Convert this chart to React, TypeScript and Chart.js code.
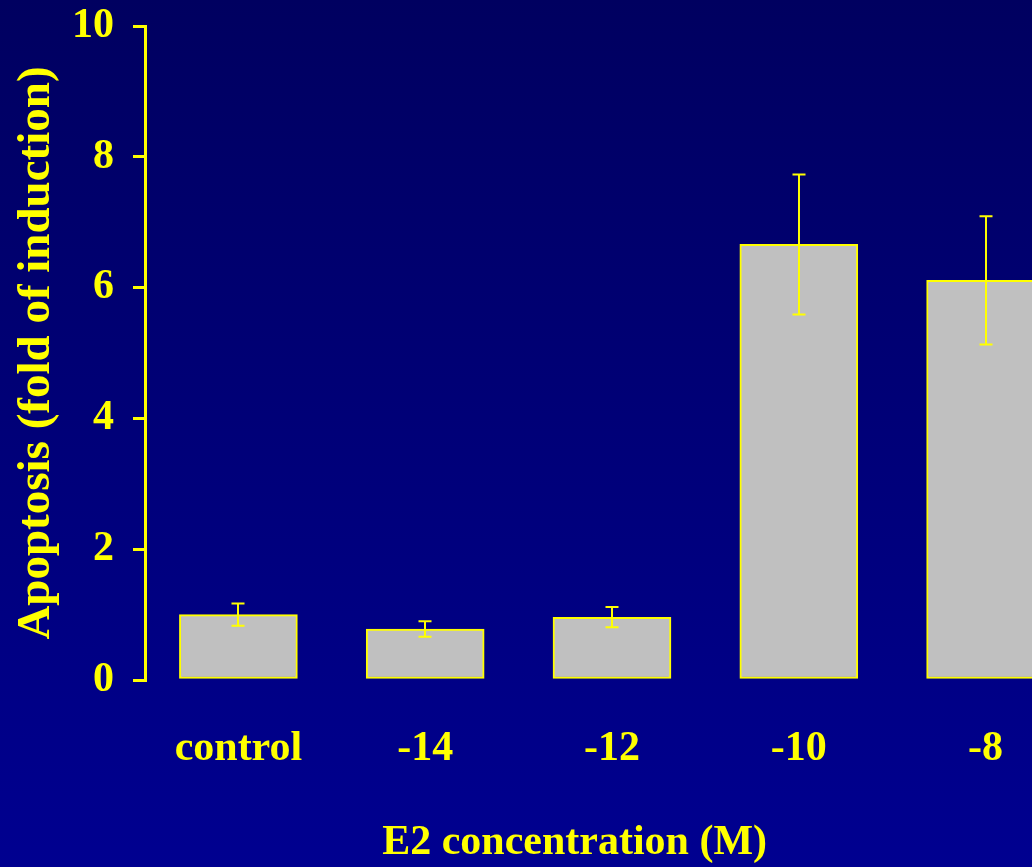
import { useEffect, useRef } from 'react';
import { Chart, registerables } from 'chart.js';

Chart.register(...registerables);

const categories = ['control', '-14', '-12', '-10', '-8'];
const apoptosisMeans = [1.0, 0.78, 0.96, 6.66, 6.11];
const apoptosisErrors = [0.17, 0.12, 0.155, 1.07, 0.98];
const yTickValues = [0, 2, 4, 6, 8, 10];
const xTitle = 'E2 concentration (M)';
const yTitle = 'Apoptosis (fold of induction)';

const YELLOW = '#ffff00';
const BAR_GREY = '#c0c0c0';
const SERIF = "'Liberation Serif', 'Times New Roman', serif";

// Draws mean ± error whiskers with caps on top of the bars.
const errorBarsPlugin = {
  id: 'errorBars',
  afterDatasetsDraw(chart: any) {
    const { ctx, scales } = chart;
    const xs = scales.x;
    const ys = scales.y;
    ctx.save();
    ctx.strokeStyle = YELLOW;
    ctx.lineWidth = 2;
    apoptosisMeans.forEach((mean, i) => {
      const err = apoptosisErrors[i];
      const px = Math.round(xs.getPixelForValue(i));
      const top = ys.getPixelForValue(mean + err);
      const bottom = ys.getPixelForValue(mean - err);
      const cap = 6.5;
      ctx.beginPath();
      ctx.moveTo(px, top);
      ctx.lineTo(px, bottom);
      ctx.moveTo(px - cap, top);
      ctx.lineTo(px + cap, top);
      ctx.moveTo(px - cap, bottom);
      ctx.lineTo(px + cap, bottom);
      ctx.stroke();
    });
    ctx.restore();
  },
};

// Axis caption under the category labels, anchored along the category scale.
const xTitlePlugin = {
  id: 'xTitle',
  afterDraw(chart: any) {
    const { ctx, scales } = chart;
    const cx = scales.x.getPixelForValue(1.8);
    ctx.save();
    ctx.fillStyle = YELLOW;
    ctx.font = `bold 42px ${SERIF}`;
    ctx.textAlign = 'center';
    ctx.textBaseline = 'middle';
    ctx.fillText(xTitle, cx, 843);
    ctx.restore();
  },
};

export default function App() {
  const canvasRef = useRef<HTMLCanvasElement | null>(null);

  useEffect(() => {
    if (!canvasRef.current) return;
    const chart = new Chart(canvasRef.current, {
      type: 'bar',
      data: {
        labels: categories,
        datasets: [
          {
            data: apoptosisMeans,
            backgroundColor: BAR_GREY,
            borderColor: YELLOW,
            borderWidth: 2,
            borderSkipped: false,
            barThickness: 118,
          },
        ],
      },
      options: {
        animation: false,
        responsive: false,
        devicePixelRatio: 1,
        layout: { padding: { left: 0, top: 26, right: 0, bottom: 0 } },
        plugins: {
          legend: { display: false },
          tooltip: { enabled: false },
        },
        scales: {
          x: {
            type: 'category',
            offset: true,
            grid: { display: false },
            border: { display: false },
            ticks: {
              color: YELLOW,
              padding: 36,
              font: { family: SERIF, size: 42, weight: 'bold' },
            },
            afterFit(scale: any) {
              scale.height = 867 - 680;
              scale.paddingLeft = 0;
              scale.paddingRight = 0;
            },
          },
          y: {
            min: 0,
            max: 10,
            afterBuildTicks(scale: any) {
              scale.ticks = yTickValues.map((v) => ({ value: v }));
            },
            grid: {
              drawOnChartArea: false,
              drawTicks: true,
              tickLength: 12,
              color: YELLOW,
              lineWidth: 3,
            },
            border: { display: true, color: YELLOW, width: 3 },
            ticks: {
              color: YELLOW,
              padding: 19,
              font: { family: SERIF, size: 42, weight: 'bold' },
            },
            title: {
              display: true,
              text: yTitle,
              color: YELLOW,
              padding: { top: 9, bottom: 0 },
              font: { family: SERIF, size: 47, weight: 'bold' },
            },
            afterFit(scale: any) {
              scale.width = 145;
              scale.paddingTop = 0;
              scale.paddingBottom = 0;
            },
          },
        },
      },
      plugins: [errorBarsPlugin, xTitlePlugin],
    });
    return () => chart.destroy();
  }, []);

  return (
    <div
      style={{
        position: 'fixed',
        left: 0,
        top: 0,
        width: 1032,
        height: 867,
        overflow: 'hidden',
        background: 'linear-gradient(to bottom, #000060 0%, #000090 100%)',
      }}
    >
      <canvas ref={canvasRef} width={1079} height={867} style={{ display: 'block' }} />
    </div>
  );
}
